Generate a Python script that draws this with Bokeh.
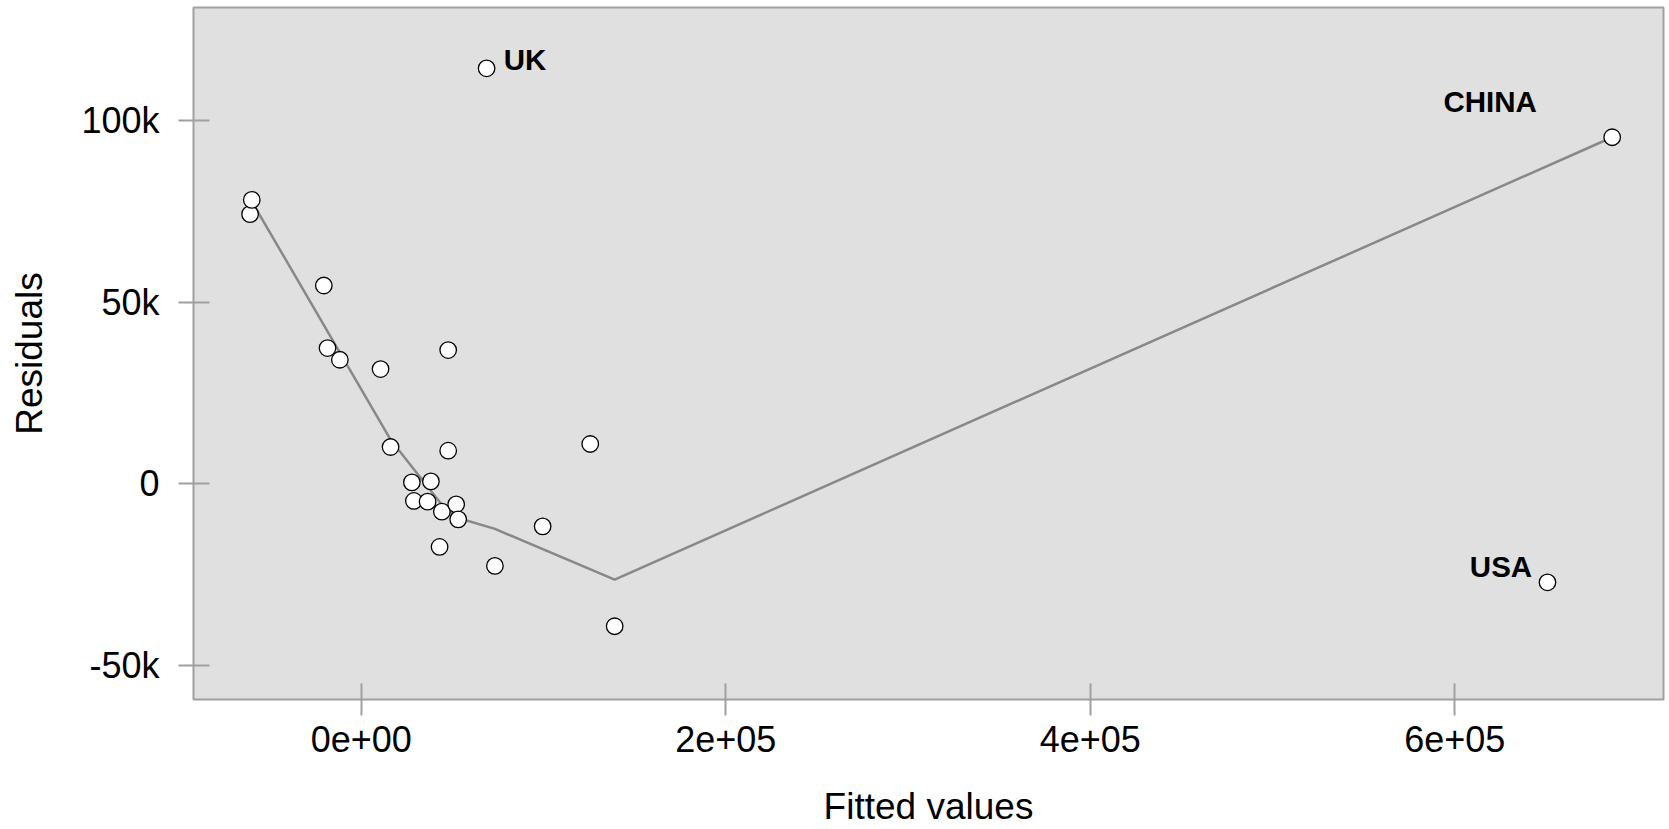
from bokeh.plotting import figure
from bokeh.models import Range1d, FixedTicker, ColumnDataSource
from bokeh.core.properties import value
from bokeh.embed import file_html
from bokeh.resources import INLINE

# ---- data ----
fitted = [-61050, -60120, -20590, -18560, -11800, 10540, 16030, 27720, 28820, 36340,
          38160, 42930, 44190, 47650, 47650, 52040, 53140, 68730, 73290, 99480,
          125600, 139000, 650840, 686350]
residuals = [74180, 78100, 54560, 37360, 34150, 31590, 10160, 440, -4670, -4860,
             710, -17310, -7610, 36810, 9150, -5600, -9730, 114290, -22530, -11650,
             10990, -39120, -27030, 95330]

smooth_x = [-61050, 16030, 44190, 53140, 73290, 139000, 686350]
smooth_y = [78500, 12170, -5690, -9340, -12360, -26290, 95330]

label_names = ["UK", "CHINA", "USA"]
label_index = [17, 23, 22]

x_ticks = [0, 200000, 400000, 600000]
x_tick_labels = ["0e+00", "2e+05", "4e+05", "6e+05"]
y_ticks = [-50000, 0, 50000, 100000]
y_tick_labels = ["-50k", "0", "50k", "100k"]

x_title = "Fitted values"
y_title = "Residuals"

# ---- styles ----
FONT = "Liberation Sans"
GRAY = "#a0a0a0"
label_x_offset = [38.5, -122, -46.5]
label_y_offset = [-9, -35.5, -16]

p = figure(width=1669, height=829, output_backend="svg", toolbar_location=None,
           x_range=Range1d(-92100, 714500), y_range=Range1d(-59260, 131000),
           min_border_top=7, min_border_right=6, min_border_left=193,
           min_border_bottom=130)

p.background_fill_color = "#e0e0e0"
p.border_fill_color = "white"
p.outline_line_color = GRAY
p.outline_line_width = 2
p.xgrid.grid_line_color = None
p.ygrid.grid_line_color = None

p.line(smooth_x, smooth_y, line_color="#888888", line_width=2.5)
p.scatter(fitted, residuals, size=16.5, fill_color="white", line_color="black",
          line_width=1.3)

lab_src = ColumnDataSource(dict(
    x=[fitted[i] for i in label_index],
    y=[residuals[i] for i in label_index],
    text=label_names,
    xo=label_x_offset,
    yo=label_y_offset,
))
p.text(x="x", y="y", text="text", x_offset="xo", y_offset="yo", source=lab_src,
       text_font=value(FONT), text_font_style="bold", text_font_size="29.5px",
       text_align="center", text_baseline="middle", text_color="black")

xa = p.xaxis[0]
xa.ticker = FixedTicker(ticks=x_ticks)
xa.major_label_overrides = {t: l for t, l in zip(x_ticks, x_tick_labels)}
xa.axis_label = x_title
xa.major_tick_in = 16
xa.major_tick_out = 16
xa.major_label_standoff = 10
xa.axis_label_standoff = 31

ya = p.yaxis[0]
ya.ticker = FixedTicker(ticks=y_ticks)
ya.major_label_overrides = {t: l for t, l in zip(y_ticks, y_tick_labels)}
ya.axis_label = y_title
ya.major_tick_in = 16
ya.major_tick_out = 15
ya.major_label_standoff = 19
ya.axis_label_standoff = 28

for ax in (xa, ya):
    ax.axis_line_color = None
    ax.major_tick_line_color = GRAY
    ax.major_tick_line_width = 2
    ax.minor_tick_line_color = None
    ax.major_label_text_font = FONT
    ax.major_label_text_font_size = "36px"
    ax.major_label_text_color = "black"
    ax.axis_label_text_font = FONT
    ax.axis_label_text_font_size = "37px"
    ax.axis_label_text_font_style = "normal"
    ax.axis_label_text_color = "black"

ya.major_label_orientation = "horizontal"

open("out.html", "w").write(file_html(p, INLINE))
